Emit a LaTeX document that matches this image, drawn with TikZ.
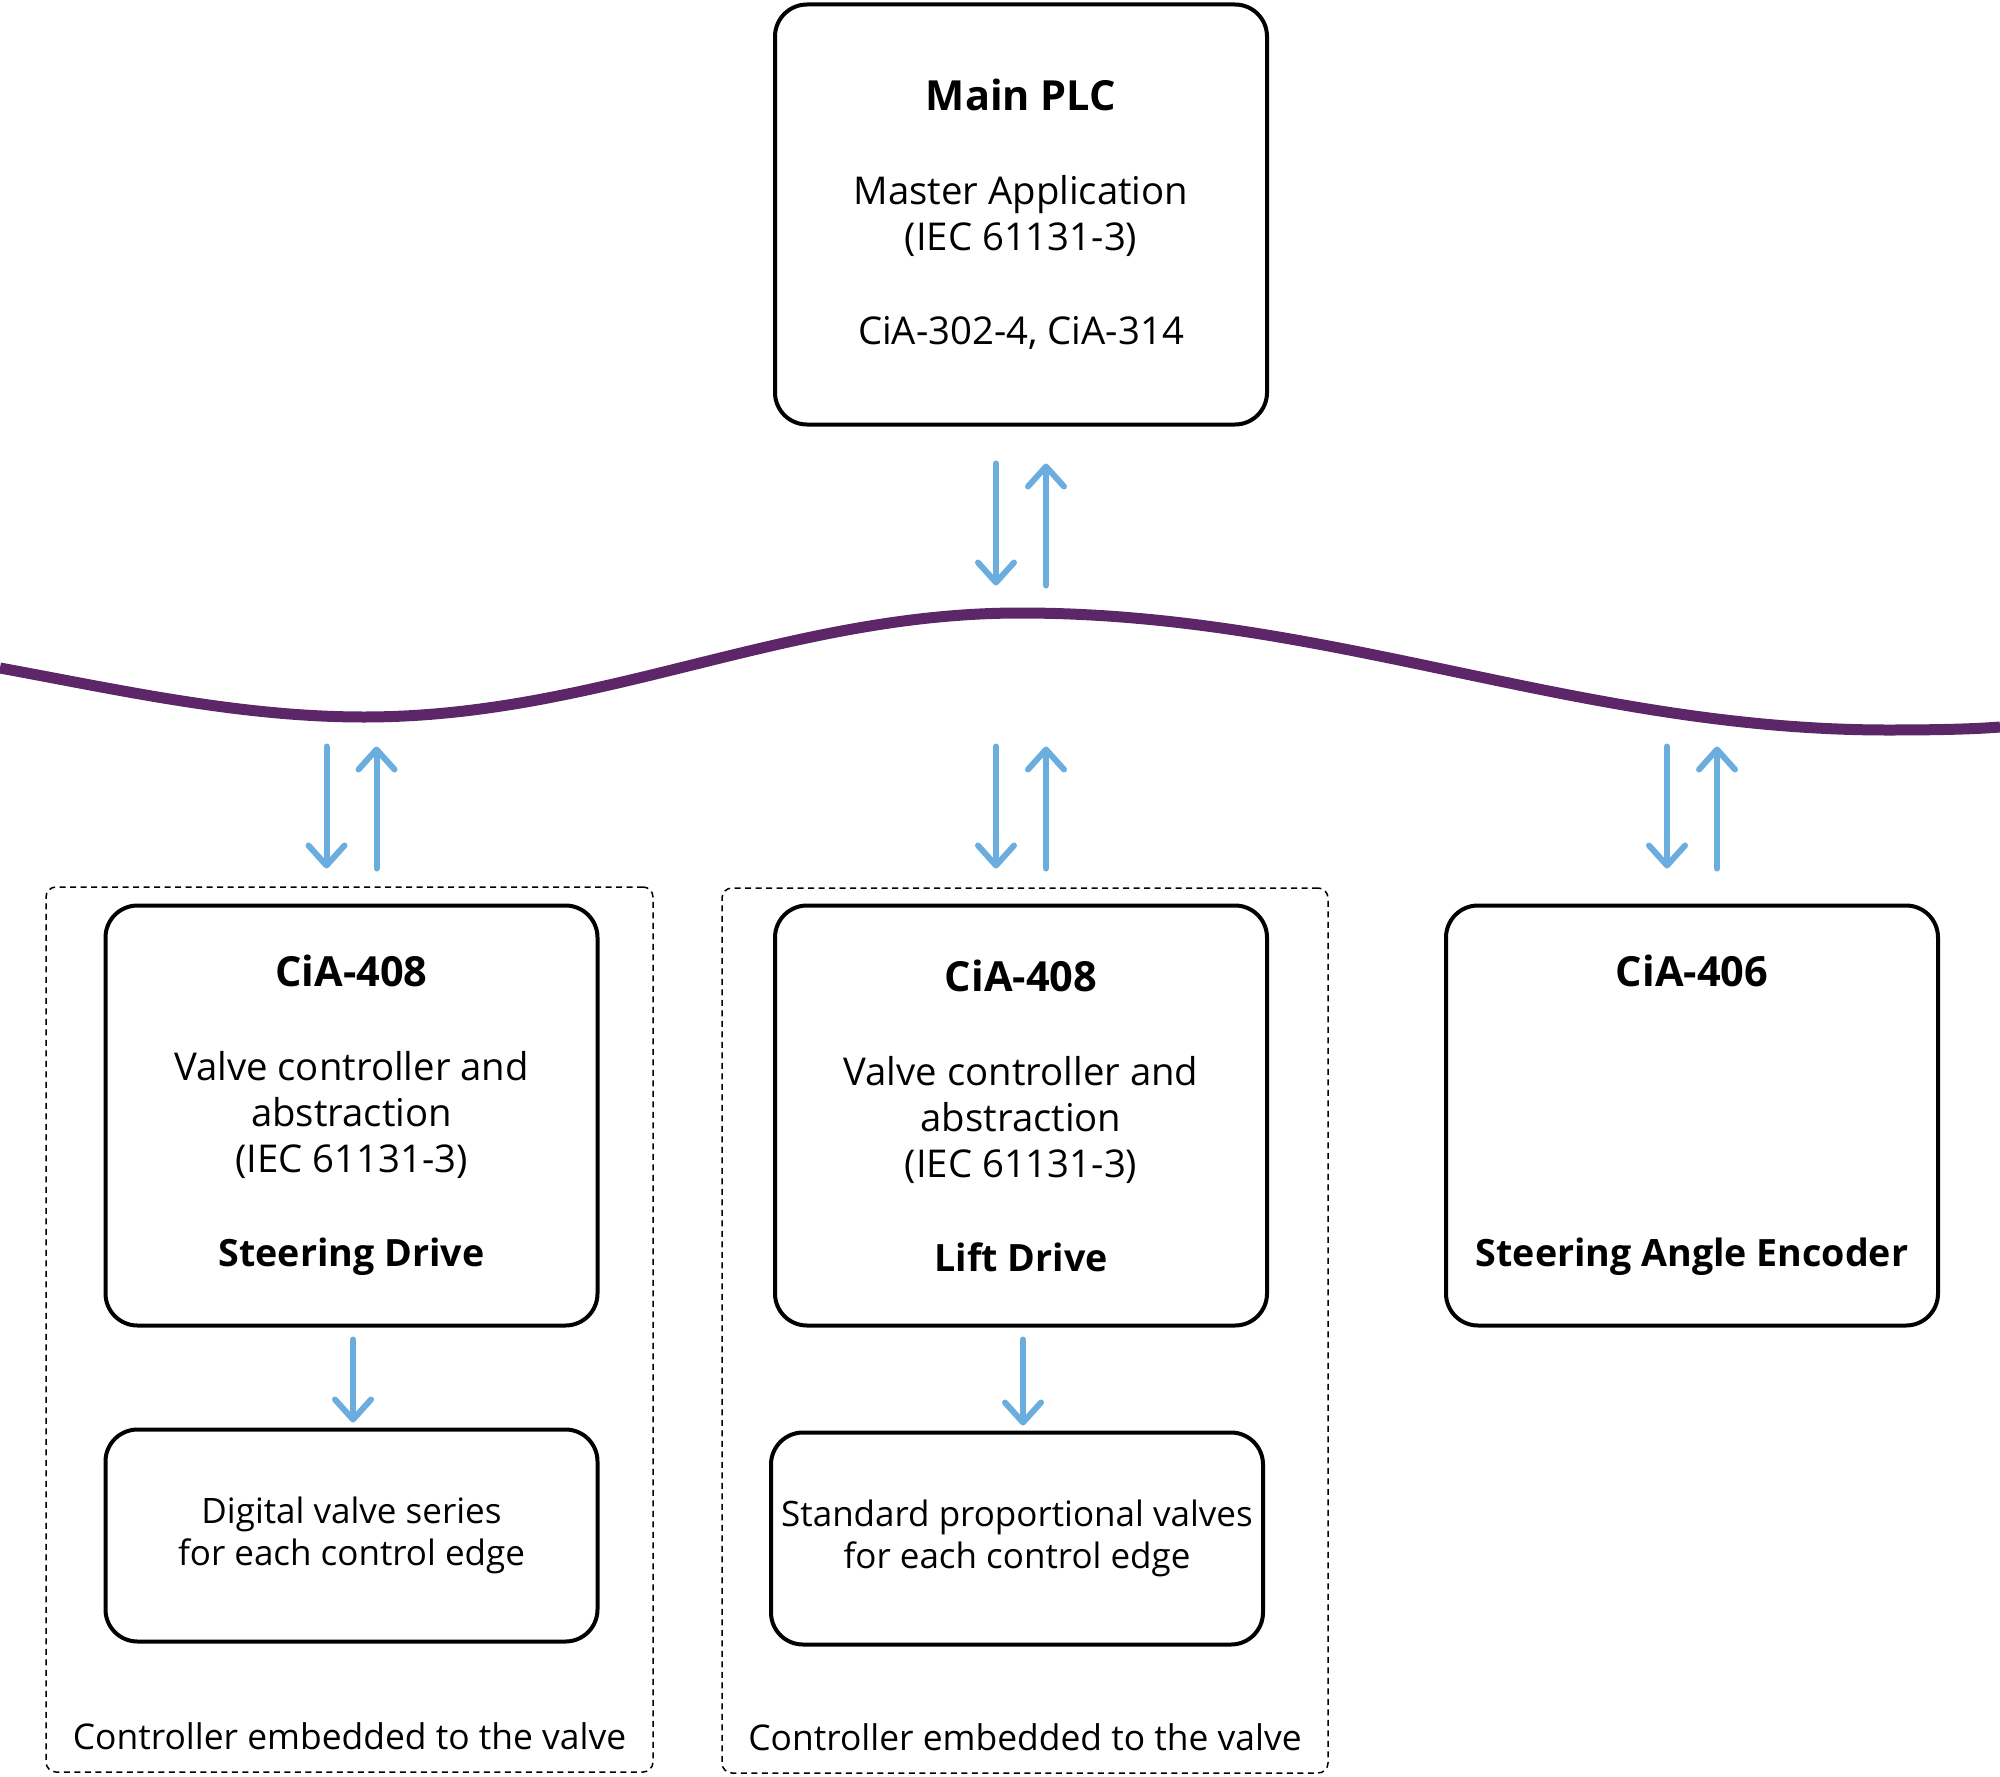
\documentclass[tikz,border=0pt]{standalone}
\usepackage{fontspec}
\setmainfont{Open Sans}
\usetikzlibrary{arrows.meta,calc,positioning}
\definecolor{busviolet}{RGB}{92,38,104}
\definecolor{flowblue}{RGB}{108,173,223}
\newcommand{\boxtitle}[1]{{\fontsize{41.5}{46}\selectfont\bfseries #1}}
\newcommand{\boxname}[1]{{\fontsize{37.6}{46}\selectfont\bfseries #1}}

\begin{document}
\begin{tikzpicture}[x=1pt,y=-1pt,
		device/.style={draw, line width=4pt, rounded corners=32pt, minimum width=492pt, minimum height=420pt, inner sep=0pt, align=center, font=\fontsize{38.3}{46}\selectfont},
		valvebox/.style={device, minimum height=212pt, font=\fontsize{35}{42}\selectfont},
		embedded/.style={draw, line width=1.5pt, dash pattern=on 6pt off 4.5pt, rounded corners=10pt, inner sep=0pt},
		caption/.style={inner sep=0pt, font=\fontsize{35.4}{42}\selectfont},
		flow/.style={flowblue, line width=6pt, line cap=round, line join=round, -{Straight Barb[length=20pt, width=36pt, round]}},
		bus/.style={busviolet, line width=11pt}]
		\useasboundingbox (0,0) rectangle (2000,1777);
		
		% Embedded controller frames
		\node[embedded, minimum width=607pt, minimum height=885pt] (emb1) at (349.5,1329.5) {};
		\node[embedded, minimum width=606pt, minimum height=885pt] (emb2) at (1025,1330.5) {};
		\node[caption, anchor=base] (cap1) at ($(emb1.south)+(0,-23)$) {Controller embedded to the valve};
		\node[caption, anchor=base] (cap2) at ($(emb2.south)+(0,-23)$) {Controller embedded to the valve};
		
		% Master
		\node[device] (plc) at (1021,214.5) {\boxtitle{Main PLC}\\[48pt] Master Application\\ (IEC 61131-3)\\[48pt] CiA-302-4, CiA-314};
		
		% Devices on the bus
		\node[device] (sd) at (351.5,1115.5) {\boxtitle{CiA-408}\\[48pt] Valve controller and\\ abstraction\\ (IEC 61131-3)\\[48pt] \boxname{Steering Drive}};
		\node[device] (ld) at (1021,1115.5) {\boxtitle{CiA-408}\\[48pt] Valve controller and\\ abstraction\\ (IEC 61131-3)\\[48pt] \boxname{Lift Drive}};
		\node[device] (sae) at (1692,1115.5) {\boxtitle{CiA-406}\\[234pt] \boxname{Steering Angle Encoder}};
		
		% Valves
		\node[valvebox, below=100pt of sd] (sdv) {Digital valve series\\ for each control edge};
		\node[valvebox, below=103pt of ld, xshift=-4pt] (ldv) {Standard proportional valves\\ for each control edge};
		
		% CAN bus
		\draw[bus] (0,668) .. controls (120,690) and (240,717) .. (364,717)
			.. controls (600,717) and (784,613) .. (1020,613)
			.. controls (1332,613) and (1576,730) .. (1888,730)
			.. controls (1940,730) and (1975,729) .. (2000,727);
		
		% Bus access
		\coordinate (plc-a) at ($(plc.south)+(-25,37)$);
		\coordinate (plc-b) at ($(plc.south)+(-25,159)$);
		\coordinate (plc-c) at ($(plc.south)+(25,159)$);
		\coordinate (plc-d) at ($(plc.south)+(25,37)$);
		\draw[flow] (plc-a) -- (plc-b);
		\draw[flow] (plc-c) -- (plc-d);
		\foreach \n in {sd,ld,sae} {
			\coordinate (\n-a) at ($(\n.north)+(-25,-157)$);
			\coordinate (\n-b) at ($(\n.north)+(-25,-35)$);
			\coordinate (\n-c) at ($(\n.north)+(25,-35)$);
			\coordinate (\n-d) at ($(\n.north)+(25,-157)$);
			\draw[flow] (\n-a) -- (\n-b);
			\draw[flow] (\n-c) -- (\n-d);
		}
		
		% Controller to valves
		\draw[flow] ($(sd.south)+(1.5,12)$) -- ($(sdv.north)+(1.5,-5)$);
		\draw[flow] ($(ld.south)+(2,12)$) -- ($(ldv.north)+(6,-5)$);
		
	\end{tikzpicture}
\end{document}
